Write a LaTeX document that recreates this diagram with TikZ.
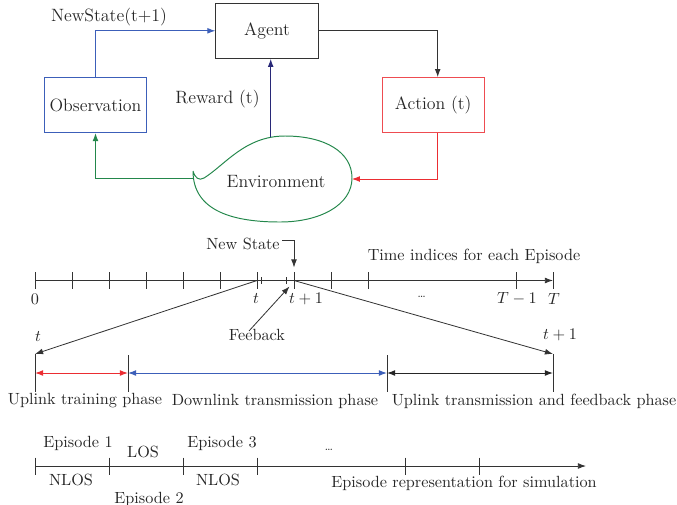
\documentclass[tikz,border=0pt]{standalone}
\usetikzlibrary{arrows.meta,calc}
\definecolor{obsblue}{RGB}{60,95,185}
\definecolor{rewnavy}{RGB}{40,40,120}
\definecolor{envgreen}{RGB}{35,135,75}
\definecolor{actred}{RGB}{235,45,50}
\newcommand\mytopfont{\fontsize{11}{13}\selectfont}
\begin{document}
\begin{tikzpicture}[x=0.617pt,y=-0.617pt,
  tip/.style={-{Latex[length=5pt,width=3.6pt]}},
  dtip/.style={{Latex[length=5pt,width=3.6pt]}-{Latex[length=5pt,width=3.6pt]}},
  box/.style={draw,minimum width=63pt,minimum height=34pt,inner sep=0pt,line width=0.6pt,font=\mytopfont,text=black!85},
  lbl/.style={inner sep=0pt,text=black!85},
  toplbl/.style={lbl,font=\mytopfont},
  axis/.style={black!80,line width=0.5pt},
  conn/.style={line width=0.6pt}]
\useasboundingbox (0,0) rectangle (677,504);

% ---------- agent / environment loop ----------
\node[box,draw=black!80] (agent) at (267,30.8) {Agent};
\node[box,draw=obsblue] (obs) at (95.5,105) {Observation};
\node[box,draw=actred!85] (act) at (433.2,105.2) {Action (t)};
\node[toplbl] (env) at (276,182) {Environment};
\draw[envgreen,line width=0.6pt]
  (193,171) .. controls (195,178) and (199,181) .. (204,178)
  .. controls (225,165) and (245,136) .. (285,136)
  .. controls (325,136) and (352,152) .. (352,178)
  .. controls (352,205) and (320,222) .. (280,222)
  .. controls (235,222) and (193,212) .. (193,171);
\coordinate (envL) at (193,178.3);
\coordinate (envT) at (270.7,136.6);
\coordinate (envR) at (351.8,179);
\node[toplbl] (nslbl) at (109,17) {NewState(t+1)};
\node[toplbl] (rew) at (217.5,99) {Reward (t)};

\draw[tip,conn,obsblue] (obs.north) |- (agent.west);
\draw[tip,conn,black!80] (agent.east) -| ($(act.north)+(4.5,0)$);
\draw[tip,conn,actred] ($(act.south)+(4.5,0)$) |- (envR);
\draw[tip,conn,rewnavy] (envT) -- (envT |- agent.south);
\draw[tip,conn,envgreen] (envL) -| (obs.south);

% ---------- time indices ----------
\foreach \i in {0,...,9} \coordinate (k\i) at (35+37*\i,280.5);
\coordinate (kTm) at (516,280.5);
\coordinate (kT) at (553,280.5);
\coordinate (s1) at (261.7,280.5);
\coordinate (s2) at (286,280.5);
\draw[axis,tip] (k0) -- (kT);
\foreach \c in {k0,k1,k2,k3,k4,k5,k6,k7,k8,k9,kTm,kT}
  \draw[axis] ($(\c)+(0,-8.5)$) -- ($(\c)+(0,8.5)$);
\foreach \c in {s1,s2}
  \draw[axis] ($(\c)+(0,-3.5)$) -- ($(\c)+(0,3.5)$);
\node[lbl] (l0) at (35,299) {0};
\node[lbl] (lt) at (256,299) {$t$};
\node[lbl] (lt1) at (306,299) {$t+1$};
\node[lbl] (ldots) at (421.7,297) {\scriptsize\dots};
\node[lbl] (lTm) at (517,299) {$T-1$};
\node[lbl] (lT) at (554,299) {$T$};
\node[lbl] (tidx) at (474,256) {Time indices for each Episode};

\node[lbl] (ns) at (243,244) {New State};
\draw[tip,axis] ($(ns.east)+(2,-4)$) -| ($(k7)+(0,-13)$);
\node[lbl] (fb) at (257,335) {Feeback};
\draw[tip,axis] ($(fb.north)+(-8,2)$) -- ($(k7)+(-4.5,6)$);

% ---------- phases ----------
\coordinate (pa) at (35,354);
\coordinate (pd) at (553,354);
\draw[tip,axis] (k6) -- (pa);
\draw[tip,axis] (k7) -- (pd);
\node[lbl] (ta) at (38,337) {$t$};
\node[lbl] (td) at (560,335) {$t+1$};

\coordinate (p0) at (35,373);
\coordinate (p1) at (128,373);
\coordinate (p2) at (387,373);
\coordinate (p3) at (553,373);
\draw[axis] (pa) -- ($(p0)+(0,19)$);
\draw[axis] (pd) -- ($(p3)+(0,19)$);
\draw[axis] ($(p1)+(0,-18)$) -- ($(p1)+(0,19)$);
\draw[axis] ($(p2)+(0,-18)$) -- ($(p2)+(0,19)$);
\draw[dtip,conn,actred] (p0) -- (p1);
\draw[dtip,conn,obsblue] (p1) -- (p2);
\draw[dtip,conn,black!85] (p2) -- (p3);
\node[lbl] (ph1) at (85,401) {Uplink training phase};
\node[lbl] (ph2) at (275,401) {Downlink transmission phase};
\node[lbl] (ph3) at (534,401) {Uplink transmission and feedback phase};

% ---------- episodes ----------
\coordinate (e0) at (35,466);
\coordinate (e1) at (109,466);
\coordinate (e2) at (183,466);
\coordinate (e3) at (257,466);
\coordinate (e4) at (405,466);
\coordinate (e5) at (479,466);
\coordinate (eE) at (586,466);
\draw[axis,tip] (e0) -- (eE);
\foreach \c in {e0,e1,e2,e3,e4,e5}
  \draw[axis] ($(\c)+(0,-8.5)$) -- ($(\c)+(0,8.5)$);
\node[lbl] (ep1) at (78,443) {Episode 1};
\node[lbl] (los) at (143,452) {LOS};
\node[lbl] (ep3) at (222,443) {Episode 3};
\node[lbl] (nl1) at (71,480) {NLOS};
\node[lbl] (ep2) at (149,499) {Episode 2};
\node[lbl] (nl2) at (218,480) {NLOS};
\node[lbl] (edots) at (329,450) {\scriptsize\dots};
\node[lbl] (erep) at (464,483) {Episode representation for simulation};
\end{tikzpicture}
\end{document}
